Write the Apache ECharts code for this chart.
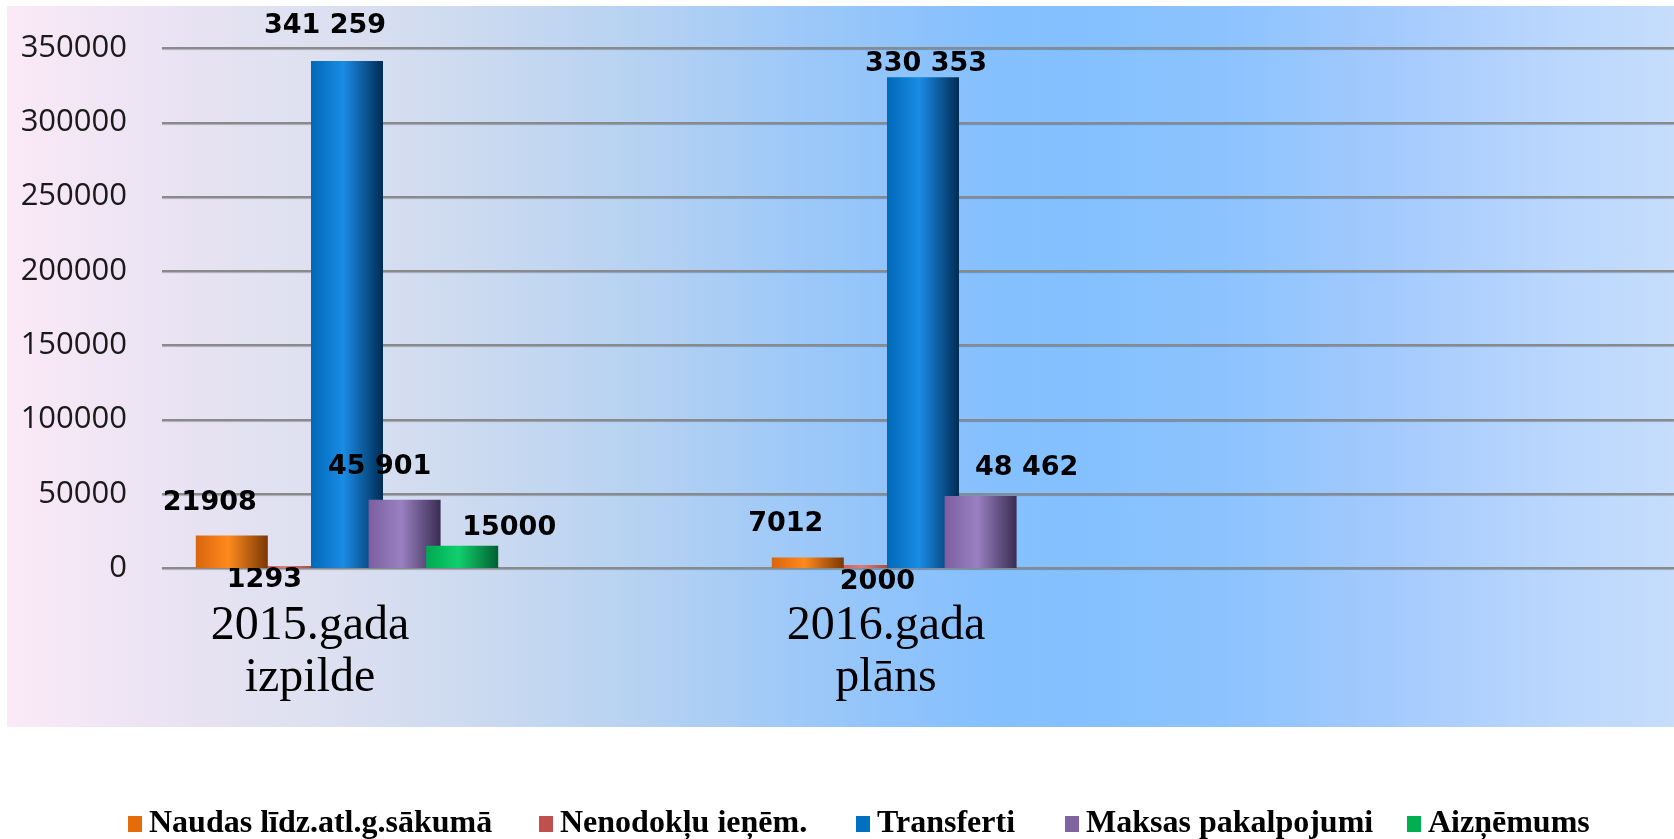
<!DOCTYPE html>
<html>
<head>
<meta charset="utf-8">
<script src="https://cdn.jsdelivr.net/npm/echarts@6/dist/echarts.min.js"></script>
<style>
  html, body { margin: 0; padding: 0; background: #ffffff; }
  #wrap { position: relative; width: 1674px; height: 839px; overflow: hidden; }
  #panel { position: absolute; left: 7px; top: 6px; width: 1667px; height: 721px;
    background: linear-gradient(to right, #fbe9f7 0%, #e9e3f3 10%, #dde0f0 19%, #ccdaf0 28%, #b6d2f2 38%, #9cc8f8 48%, #86c0fe 58%, #84c0ff 64%, #8cc3fe 73%, #a4cafd 83%, #b8d6fd 92%, #c6ddfc 100%); }
  #chart { position: absolute; left: 0; top: 0; width: 1674px; height: 839px; }
</style>
</head>
<body>
<div id="wrap">
  <div id="panel"></div>
  <div id="chart"></div>
</div>
<script>
// ---- data ----
const categories = ['2015.gada\nizpilde', '2016.gada\nplāns'];
const seriesNames = ['Naudas līdz.atl.g.sākumā', 'Nenodokļu ieņēm.', 'Transferti', 'Maksas pakalpojumi', 'Aizņēmums'];
const naudasValues = [21908, 7012];
const nenodokluValues = [1293, 2000];
const transfertiValues = [341259, 330353];
const maksasValues = [45901, 48462];
const aiznemumsValues = [15000, null];
const yMin = 0, yMax = 350000, yInterval = 50000;

// ---- styles (not data) ----
const legendColors = ['#e46c0a', '#c0504d', '#0070c0', '#8064a2', '#00b050'];
const barGradients = [
  ['#d8650c', '#ff8a1e', '#7a3805'],
  ['#c0504d', '#e07b78', '#8a3030'],
  ['#0068b8', '#1a8ce4', '#002c55'],
  ['#7a5ea0', '#9a80c2', '#3a2c52'],
  ['#00a852', '#12cf6e', '#006030']
];
const labelOffsets = [
  [[-22, -14], [-22, -15]],
  [[-25, -7], [12, -5]],
  [[-22, -17], [3, 5]],
  [[-25, -14], [46, -10]],
  [[47, 1], [0, 0]]
];
const labelPositions = ['top', 'bottom', 'top', 'top', 'top'];
const legendLefts = [123, 534, 851, 1060, 1402];
const spacedSeries = [false, false, true, true, false];

const allValues = [naudasValues, nenodokluValues, transfertiValues, maksasValues, aiznemumsValues];

function fmt(v, spaced) {
  if (v == null) return '';
  const s = String(v);
  return spaced ? s.replace(/\B(?=(\d{3})+(?!\d))/g, ' ') : s;
}

function grad(c) {
  return new echarts.graphic.LinearGradient(0, 0, 1, 0, [
    { offset: 0, color: c[0] },
    { offset: 0.45, color: c[1] },
    { offset: 1, color: c[2] }
  ]);
}

const series = allValues.map((vals, i) => ({
  name: seriesNames[i],
  type: 'bar',
  xAxisIndex: 1,
  yAxisIndex: 1,
  barWidth: 72,
  barGap: '-20%',
  z: i === 1 ? 1 : 2,
  itemStyle: { color: grad(barGradients[i]) },
  label: {
    show: true,
    position: labelPositions[i],
    fontFamily: 'DejaVu Sans',
    fontWeight: 'bold',
    fontSize: 27,
    color: '#000',
    formatter: p => fmt(p.value, spacedSeries[i])
  },
  data: vals.map((v, j) => ({
    value: v,
    label: { offset: labelOffsets[i][j] }
  }))
}));

const legends = seriesNames.map((n, i) => ({
  data: [{ name: n, itemStyle: { color: legendColors[i] } }],
  left: legendLefts[i],
  top: 803,
  icon: 'rect',
  itemWidth: 14,
  itemHeight: 16,
  textStyle: { fontFamily: 'Liberation Serif', fontWeight: 'bold', fontSize: 32, color: '#000', padding: [0, 0, 0, 2] },
  selectedMode: false
}));

const chart = echarts.init(document.getElementById('chart'), null, { renderer: 'canvas' });
chart.setOption({
  backgroundColor: 'transparent',
  animation: false,
  color: legendColors,
  legend: legends,
  grid: [
    { left: 162, right: 0, top: 48, height: 520 },
    { left: 59, width: 1152, top: 48, height: 520 }
  ],
  xAxis: [
    { type: 'value', gridIndex: 0, show: false, min: 0, max: 1 },
    {
      type: 'category', gridIndex: 1, data: categories,
      axisLine: { show: false }, axisTick: { show: false },
      axisLabel: {
        margin: 32, fontFamily: 'Liberation Serif', fontSize: 48, lineHeight: 52,
        color: '#000', padding: [0, 74, 0, 0], interval: 0
      }
    }
  ],
  yAxis: [
    {
      type: 'value', gridIndex: 0, min: yMin, max: yMax, interval: yInterval,
      axisLine: { show: false }, axisTick: { show: false },
      axisLabel: { margin: 35, fontFamily: 'Open Sans', fontSize: 31, color: '#1a1a1a', formatter: v => String(v) },
      splitLine: { lineStyle: { color: '#8a8a8a', width: 2, shadowColor: 'rgba(0,0,0,0.25)', shadowOffsetY: 1, shadowBlur: 1 } }
    },
    { type: 'value', gridIndex: 1, min: yMin, max: yMax, interval: yInterval, show: false, splitLine: { show: false } }
  ],
  series: series
});
</script>
</body>
</html>
